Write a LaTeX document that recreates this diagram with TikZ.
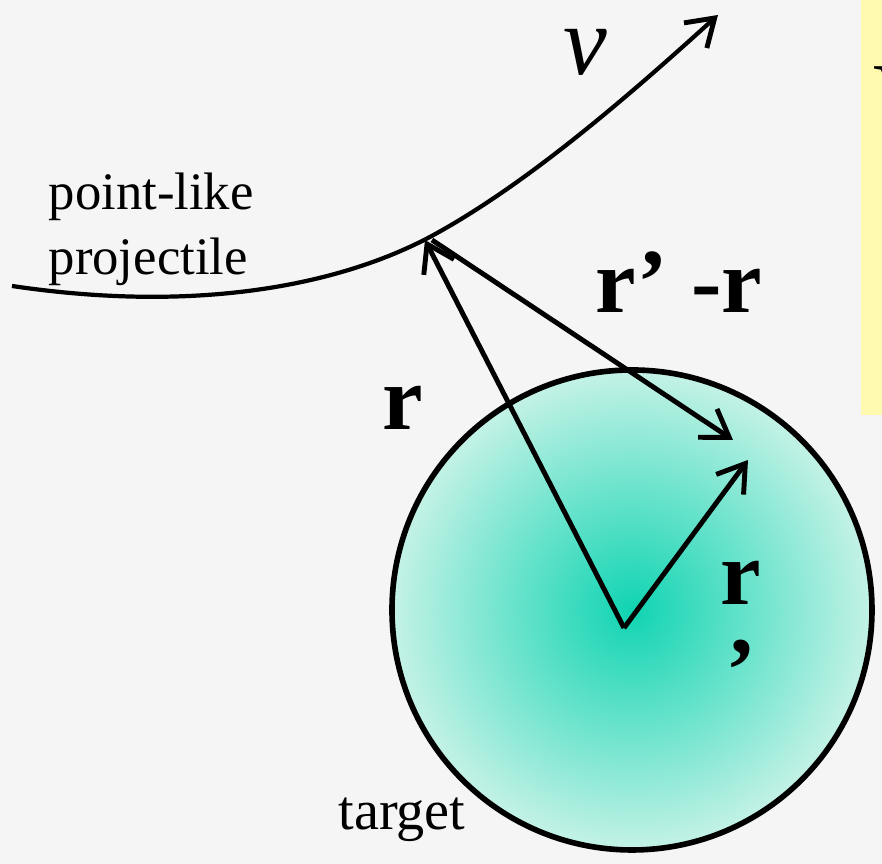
\documentclass[tikz,border=0pt]{standalone}
\usepackage{fontspec}
\setmainfont{Liberation Serif}
\usetikzlibrary{arrows.meta,positioning,calc}
\definecolor{bggray}{HTML}{F5F5F5}
\definecolor{noteyellow}{HTML}{FFFAB0}
\definecolor{tealin}{HTML}{10D4B2}
\definecolor{tealout}{HTML}{C4F2E6}

\begin{document}
\begin{tikzpicture}[
      arr/.style={-{Straight Barb[length=2.6mm,width=3.4mm,line width=1.4pt]},line width=1.4pt},
      lbl/.style={inner sep=0pt,font=\fontsize{15}{18.5}\selectfont},
      vec/.style={inner sep=0pt,font=\fontsize{26}{30}\selectfont\bfseries}]
    \useasboundingbox (0,0) rectangle (8.82,8.64);
    \fill[bggray] (0,0) rectangle (8.82,8.64);
    \fill[noteyellow] (8.61,4.49) rectangle (8.82,8.64);
    \node[anchor=north west,inner sep=0pt,font=\fontsize{26}{30}\selectfont] (note) at (8.73,7.98) {V};
    % target
    \draw[line width=1.6pt,shading=radial,inner color=tealin,outer color=tealout]
      (6.32,2.54) circle (2.40);
    % trajectory of the projectile
    \coordinate (start) at (0.12,5.78);
    \coordinate (P) at (4.28,6.26);
    \coordinate (vend) at (7.18,8.49);
    \draw[arr,line width=1.2pt] (start) .. controls (2.0,5.5) and (3.4,5.8) .. (P)
      .. controls (5.2,6.75) and (6.2,7.6) .. (vend);
    % vectors
    \coordinate (O) at (6.24,2.36);
    \coordinate (rtip) at (4.25,6.24);
    \coordinate (rptip) at (7.48,4.04);
    \coordinate (dstart) at (4.32,6.24);
    \coordinate (dtip) at (7.33,4.24);
    \draw[arr] (O) -- (rtip);
    \draw[arr] (O) -- (rptip);
    \draw[arr] (dstart) -- (dtip);
    % labels
    \node[inner sep=0pt,font=\fontsize{28}{32}\selectfont\itshape] (v) at (5.85,8.12) {v};
    \node[lbl,align=left,anchor=north west] (proj) at (0.48,6.92) {point-like\\projectile};
    \node[vec] (rdiff) at (6.79,5.82) {r’ -r};
    \node[vec] (r) at (4.03,4.56) {r};
    \node[vec] (rp) at (7.41,2.81) {r};
    \node[vec] (rpc) at (7.42,2.10) {,};
    \node[lbl,font=\fontsize{16}{19}\selectfont] (target) at (4.02,0.44) {target};
  \end{tikzpicture}
\end{document}
